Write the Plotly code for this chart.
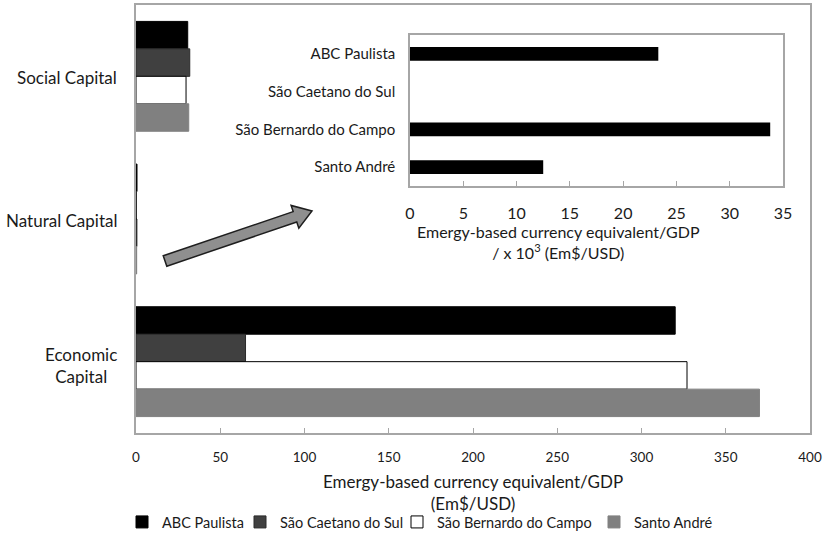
import plotly.graph_objects as go
import numpy as np

# main chart data (Em$/USD)
capitals = ["Social Capital", "Natural Capital", "Economic Capital"]
capital_labels = ["Social Capital", "Natural Capital", "Economic<br>Capital"]
cities = ["ABC Paulista", "São Caetano do Sul", "São Bernardo do Campo", "Santo André"]
abc_paulista = [30.7, 0.6, 320]
sao_caetano = [31.9, 0.3, 65]
sao_bernardo = [29.7, 0.5, 327]
santo_andre = [31.3, 0.4, 370]

# inset: natural capital, x 10^3 Em$/USD
inset_values = [23.3, None, 33.8, 12.5]

main_ticks = [0, 50, 100, 150, 200, 250, 300, 350, 400]
inset_ticks = [0, 5, 10, 15, 20, 25, 30, 35]

W, H = 829, 536
L, R, T, B = 136, 19, 5, 103
pw, ph = W - L - R, H - T - B


def px2paper(x, y):
    return (x - L) / pw, (H - B - y) / ph


FONT = "Lato"
fills = ["#000000", "#404040", "#ffffff", "#808080"]
edges = ["#000000", "#2a2a2a", "#000000", "#808080"]
series = [abc_paulista, sao_caetano, sao_bernardo, santo_andre]
legend_ids = ["legend", "legend2", "legend3", "legend4"]
legend_text_x = [157, 275, 432, 629]  # where each legend label starts (px)

fig = go.Figure()
for name, vals, fc, ec, lg in zip(cities, series, fills, edges, legend_ids):
    fig.add_trace(go.Bar(y=capitals, x=vals, name=name, orientation="h",
                         marker=dict(color=fc, line=dict(color=ec, width=1)),
                         xaxis="x", yaxis="y", legend=lg))

fig.add_trace(go.Bar(y=cities, x=inset_values, orientation="h", width=0.37,
                     marker=dict(color="#000000", line=dict(width=0)),
                     showlegend=False, xaxis="x2", yaxis="y2"))

# inset domain from pixel box
ix0, iy0 = px2paper(410, 186)
ix1, iy1 = px2paper(783, 35)

fig.update_layout(
    width=W, height=H,
    margin=dict(l=L, r=R, t=T, b=B, autoexpand=False),
    paper_bgcolor="white", plot_bgcolor="white",
    font=dict(family=FONT, color="#1a1a1a"),
    barmode="group", bargap=0.23, bargroupgap=0,
    xaxis=dict(range=[0, 400], tickvals=main_ticks, showgrid=False, zeroline=False,
               showline=True, linecolor="#a6a6a6", linewidth=1.5, mirror=True,
               ticks="inside", ticklen=5, tickcolor="#a6a6a6",
               tickfont=dict(size=13.5), ticklabelstandoff=11),
    yaxis=dict(categoryorder="array", categoryarray=capitals, autorange="reversed",
               showgrid=False, zeroline=False, showticklabels=False,
               showline=True, linecolor="#a6a6a6", linewidth=1.5, mirror=True),
    xaxis2=dict(domain=[ix0, ix1], anchor="y2", range=[0, 35], tickvals=inset_ticks,
                showgrid=False, zeroline=False, showline=True, mirror=True,
                linecolor="#a6a6a6", linewidth=1.5, ticks="inside", ticklen=5,
                tickcolor="#a6a6a6", tickfont=dict(size=16), ticklabelstandoff=12),
    yaxis2=dict(domain=[iy0, iy1], anchor="x2", categoryorder="array",
                categoryarray=cities, autorange="reversed", showgrid=False,
                zeroline=False, showline=True, mirror=True, linecolor="#a6a6a6",
                linewidth=1.5, ticks="", tickfont=dict(size=15),
                ticklabelstandoff=10),
    showlegend=True,
)

# one small legend per city so each entry sits where the reference has it
for lg, tx in zip(legend_ids, legend_text_x):
    fig.update_layout({lg: dict(orientation="h", x=px2paper(tx - 35, 0)[0],
                                xanchor="left", y=px2paper(0, 506)[1],
                                yanchor="top", font=dict(size=14.5),
                                itemwidth=30, bgcolor="rgba(0,0,0,0)")})

# category labels for the main axis
for cat, lab in zip(capitals, capital_labels):
    fig.add_annotation(x=px2paper(119, 0)[0], xref="paper", y=cat, yref="y",
                       text=lab, showarrow=False, xanchor="right", align="center",
                       font=dict(size=17), yshift=-4 if "<br>" in lab else -1)

# axis titles
mx, my = px2paper(473, 492)
fig.add_annotation(x=mx, y=my, xref="paper", yref="paper", showarrow=False,
                   text="Emergy-based currency equivalent/GDP<br>(Em$/USD)",
                   font=dict(size=17), align="center", yanchor="middle")
sx, sy = px2paper(558, 242)
fig.add_annotation(x=sx, y=sy, xref="paper", yref="paper", showarrow=False,
                   text="Emergy-based currency equivalent/GDP<br>/ x 10<sup>3</sup> (Em$/USD)",
                   font=dict(size=16), align="center", yanchor="middle")

# block arrow pointing at the inset
tail = np.array([165.0, 261.0])
tip = np.array([312.0, 211.0])
u = (tip - tail) / np.linalg.norm(tip - tail)
n = np.array([-u[1], u[0]])
base = tip - 18 * u
pts = [tail - 5.5 * n, base - 5.5 * n, base - 12 * n, tip, base + 12 * n, base + 5.5 * n, tail + 5.5 * n]
path = "M " + " L ".join("%.4f,%.4f" % px2paper(*p) for p in pts) + " Z"
fig.add_shape(type="path", path=path, xref="paper", yref="paper",
              fillcolor="#8f8f8f", line=dict(color="#1e1e1e", width=1.5))

fig.write_html("out.html", config={"displayModeBar": False},
               post_script="document.body.style.margin='0';")
